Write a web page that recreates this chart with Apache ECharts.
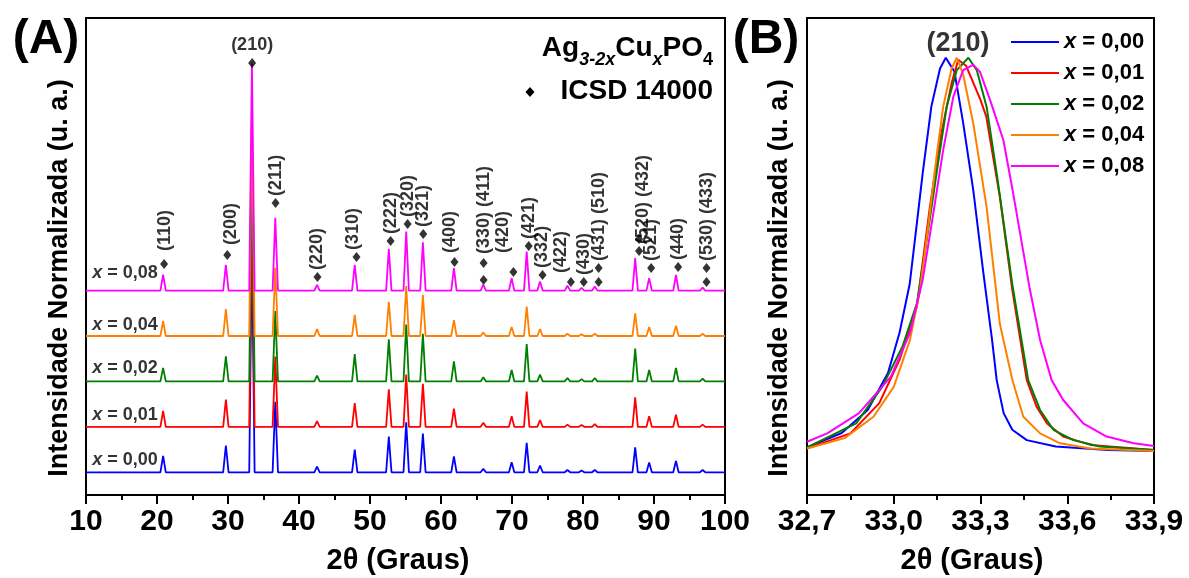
<!DOCTYPE html>
<html>
<head>
<meta charset="utf-8">
<script src="https://cdn.jsdelivr.net/npm/echarts@6/dist/echarts.min.js"></script>
<style>
  html, body { margin: 0; padding: 0; background: #fff; }
  #chart { width: 1189px; height: 578px; }
</style>
</head>
<body>
<div id="chart"></div>
<script>
// ---- Samples Ag(3-2x)Cu(x)PO4 ----
const compositions = ['x = 0,00', 'x = 0,01', 'x = 0,02', 'x = 0,04', 'x = 0,08'];
const seriesColors = ['#0000ff', '#ff0000', '#008000', '#ff8000', '#ff00ff'];
// vertical stacking of the normalized patterns in panel A
const stackOffsets = [0, 0.2, 0.4, 0.6, 0.8];

// ---- Panel A: reflection positions (2θ, degrees) ----
const peakPositions = [20.86, 29.7, 33.37, 36.66, 42.54, 47.85, 52.65, 55.1, 57.45, 61.82,
                       65.96, 69.95, 72.07, 73.95, 77.81, 79.8, 81.66, 87.35, 89.32, 93.09, 96.85];
// normalized peak intensities, one array per sample (same order as peakPositions)
const peaks000 = [0.072, 0.118, 1.0, 0.31, 0.025, 0.10, 0.157, 0.22, 0.17, 0.07,
                  0.015, 0.044, 0.13, 0.03, 0.01, 0.008, 0.01, 0.11, 0.043, 0.05, 0.01];
const peaks001 = [0.07, 0.12, 1.0, 0.31, 0.025, 0.105, 0.165, 0.23, 0.19, 0.08,
                  0.018, 0.047, 0.155, 0.03, 0.01, 0.008, 0.012, 0.13, 0.047, 0.054, 0.01];
const peaks002 = [0.06, 0.11, 1.0, 0.31, 0.026, 0.12, 0.185, 0.25, 0.21, 0.088,
                  0.018, 0.05, 0.165, 0.03, 0.015, 0.01, 0.015, 0.145, 0.05, 0.06, 0.012];
const peaks004 = [0.066, 0.118, 1.0, 0.30, 0.03, 0.093, 0.15, 0.22, 0.18, 0.07,
                  0.015, 0.04, 0.13, 0.03, 0.01, 0.008, 0.01, 0.10, 0.04, 0.045, 0.01];
const peaks008 = [0.07, 0.113, 1.0, 0.32, 0.025, 0.113, 0.184, 0.26, 0.213, 0.099,
                  0.026, 0.055, 0.172, 0.04, 0.022, 0.012, 0.018, 0.143, 0.055, 0.069, 0.013];
const peakSets = [peaks000, peaks001, peaks002, peaks004, peaks008];

// ICSD 14000 reference reflections (marker position and Miller indices)
const refX = [21.0, 29.9, 33.4, 36.7, 42.6, 48.1, 52.9, 55.3, 57.5, 61.9, 66.0, 66.0, 70.2,
              72.35, 74.3, 78.3, 80.1, 82.2, 82.2, 87.9, 87.9, 89.6, 93.4, 97.4, 97.4];
const refY = [0.917, 0.957, 1.802, 1.186, 0.860, 0.948, 1.018, 1.093, 1.049, 0.926, 0.921, 0.847, 0.882,
              0.996, 0.869, 0.838, 0.838, 0.899, 0.838, 1.027, 0.974, 0.899, 0.904, 0.899, 0.838];
const refHkl = ['(110)', '(200)', '(210)', '(211)', '(220)', '(310)', '(222)', '(320)', '(321)', '(400)',
                '(330) (411)', '', '(420)', '(421)', '(332)', '(422)', '(430)', '(431) (510)', '',
                '(520) (432)', '', '(521)', '(440)', '(530) (433)', ''];

// ---- Panel B: (210) reflection profiles [2θ, normalized intensity] ----
const prof000 = [[32.70, 0.02], [32.82, 0.056], [32.91, 0.114], [32.98, 0.207], [33.02, 0.308], [33.055, 0.43],
  [33.08, 0.584], [33.10, 0.709], [33.13, 0.877], [33.16, 0.973], [33.18, 1.0], [33.21, 0.965], [33.24, 0.836],
  [33.275, 0.667], [33.31, 0.458], [33.34, 0.29], [33.356, 0.189], [33.38, 0.106], [33.41, 0.064], [33.46, 0.038],
  [33.56, 0.022], [33.74, 0.013], [33.9, 0.011]];
const prof001 = [[32.70, 0.017], [32.85, 0.055], [32.95, 0.131], [33.02, 0.24], [33.08, 0.374], [33.125, 0.625],
  [33.16, 0.793], [33.20, 0.936], [33.223, 0.995], [33.25, 0.98], [33.30, 0.894], [33.32, 0.852], [33.367, 0.65],
  [33.41, 0.416], [33.46, 0.189], [33.494, 0.122], [33.53, 0.08], [33.586, 0.047], [33.68, 0.026], [33.9, 0.013]];
const prof002 = [[32.70, 0.02], [32.87, 0.08], [32.96, 0.172], [33.03, 0.273], [33.08, 0.382], [33.114, 0.541],
  [33.148, 0.709], [33.183, 0.877], [33.218, 0.969], [33.258, 1.0], [33.287, 0.969], [33.321, 0.877], [33.356, 0.709],
  [33.41, 0.43], [33.465, 0.189], [33.506, 0.114], [33.552, 0.064], [33.621, 0.038], [33.713, 0.022], [33.9, 0.013]];
const prof004 = [[32.70, 0.017], [32.83, 0.043], [32.93, 0.097], [33.0, 0.172], [33.056, 0.29], [33.091, 0.416],
  [33.119, 0.575], [33.148, 0.751], [33.171, 0.877], [33.20, 0.973], [33.218, 1.0], [33.24, 0.958], [33.275, 0.835],
  [33.321, 0.625], [33.367, 0.33], [33.41, 0.19], [33.448, 0.097], [33.506, 0.055], [33.575, 0.03], [33.68, 0.017],
  [33.9, 0.011]];
const prof008 = [[32.70, 0.034], [32.77, 0.055], [32.88, 0.106], [32.99, 0.198], [33.056, 0.307], [33.10, 0.441],
  [33.137, 0.609], [33.171, 0.768], [33.206, 0.902], [33.24, 0.969], [33.275, 0.982], [33.298, 0.965], [33.333, 0.894],
  [33.379, 0.793], [33.413, 0.659], [33.47, 0.42], [33.506, 0.29], [33.546, 0.189], [33.586, 0.139], [33.655, 0.08],
  [33.736, 0.047], [33.83, 0.03], [33.9, 0.023]];
const profileSets = [prof000, prof001, prof002, prof004, prof008];

// ---- drawing ----
const FONT = '"Liberation Sans", Arial, Helvetica, sans-serif';
const PEAK_HALF_BASE = 0.38;           // half width of a drawn reflection foot (deg)
const compLabelX = 15.5;               // where the composition tags sit
const compLabelLift = [0.055, 0.052, 0.059, 0.05, 0.077];
// fine placement of a few crowded index labels (screen px: right, down)
const labelShift = {
  '(110)': [1, -6], '(200)': [4, -3], '(310)': [-3, 0], '(400)': [-4, -2],
  '(330) (411)': [0, -2], '(420)': [-10, -12], '(422)': [-10, -2], '(520) (432)': [4, 12]
};

function stickPattern(heights, offset) {
  const pts = [[10, offset]];
  peakPositions.forEach((p, i) => {
    pts.push([p - PEAK_HALF_BASE, offset], [p, offset + heights[i]], [p + PEAK_HALF_BASE, offset]);
  });
  pts.push([100, offset]);
  return pts;
}

const chart = echarts.init(document.getElementById('chart'), null, { renderer: 'canvas' });

const axisCommon = {
  axisLine: { show: true, onZero: false, lineStyle: { color: '#000', width: 2 } },
  axisTick: { show: true, length: 9, lineStyle: { color: '#000', width: 2 } },
  minorTick: { show: true, splitNumber: 2, length: 5, lineStyle: { color: '#000', width: 2 } },
  splitLine: { show: false },
  axisLabel: { color: '#000', fontSize: 30, fontWeight: 'bold', fontFamily: FONT, margin: 12 }
};
const yCommon = {
  type: 'value',
  axisLine: { show: true, onZero: false, lineStyle: { color: '#000', width: 2 } },
  axisTick: { show: false }, axisLabel: { show: false }, splitLine: { show: false }
};

const series = [];
// panel A patterns
compositions.forEach((name, k) => {
  series.push({
    name, type: 'line', xAxisIndex: 0, yAxisIndex: 0,
    data: stickPattern(peakSets[k], stackOffsets[k]),
    symbol: 'none', color: seriesColors[k],
    lineStyle: { color: seriesColors[k], width: 1.8 }, z: 2 + k
  });
});
// composition tags in panel A
series.push({
  type: 'scatter', xAxisIndex: 0, yAxisIndex: 0, symbolSize: 0, silent: true, z: 10,
  data: compositions.map((name, k) => ({
    value: [compLabelX, stackOffsets[k] + compLabelLift[k]],
    label: { formatter: name.replace('x', '{i|x}') }
  })),
  label: {
    show: true, position: 'inside', color: '#000', fontSize: 18, fontWeight: 'bold', fontFamily: FONT,
    rich: { i: { fontStyle: 'italic', fontWeight: 'bold', fontSize: 18, fontFamily: FONT, color: '#000' } }
  }
});
// ICSD reference markers and Miller indices
series.push({
  type: 'scatter', xAxisIndex: 0, yAxisIndex: 0, symbol: 'diamond', symbolSize: [8, 10],
  itemStyle: { color: '#000' }, z: 12, silent: true,
  data: refX.map((x, i) => {
    const hkl = refHkl[i];
    if (!hkl) return { value: [x, refY[i]], label: { show: false } };
    if (hkl === '(210)') {
      return {
        value: [x, refY[i]],
        label: { show: true, formatter: hkl, position: 'top', distance: 4, rotate: 0,
                 align: 'center', verticalAlign: 'bottom' }
      };
    }
    const s = labelShift[hkl] || [0, 0];
    return {
      value: [x, refY[i]],
      label: { show: true, formatter: hkl, position: 'top', distance: 2, rotate: 90,
               align: 'left', verticalAlign: 'middle', offset: [-s[1], s[0]] }
    };
  }),
  label: { color: '#000', fontSize: 18, fontWeight: 'bold', fontFamily: FONT }
});
// panel B profiles
compositions.forEach((name, k) => {
  series.push({
    name, type: 'line', xAxisIndex: 1, yAxisIndex: 1, data: profileSets[k],
    symbol: 'none', color: seriesColors[k],
    lineStyle: { color: seriesColors[k], width: 2 }, z: 2 + k
  });
});
// (210) tag in panel B
series.push({
  type: 'scatter', xAxisIndex: 1, yAxisIndex: 1, symbolSize: 0, silent: true,
  data: [{ value: [33.222, 1.035] }],
  label: { show: true, position: 'inside', formatter: '(210)', color: '#000',
           fontSize: 27, fontWeight: 'bold', fontFamily: FONT }
});

const option = {
  animation: false,
  backgroundColor: '#fff',
  grid: [
    { left: 86, top: 18, width: 639, height: 477, show: true, borderColor: '#000', borderWidth: 2, containLabel: false },
    { left: 807, top: 18, width: 347, height: 477, show: true, borderColor: '#000', borderWidth: 2, containLabel: false }
  ],
  xAxis: [
    Object.assign({ type: 'value', gridIndex: 0, min: 10, max: 100, interval: 10 }, axisCommon),
    Object.assign({ type: 'value', gridIndex: 1, min: 32.7, max: 33.9, interval: 0.3 }, axisCommon, {
      axisLabel: Object.assign({}, axisCommon.axisLabel, {
        formatter: v => v.toFixed(1).replace('.', ',')
      })
    })
  ],
  yAxis: [
    Object.assign({ gridIndex: 0, min: -0.1, max: 2.0 }, yCommon),
    Object.assign({ gridIndex: 1, min: -0.1, max: 1.1 }, yCommon)
  ],
  legend: {
    data: compositions, orient: 'vertical', left: 1006, top: 25,
    icon: 'rect', itemWidth: 48, itemHeight: 2, itemGap: 7, selectedMode: false,
    formatter: n => n.replace('x', '{i|x}'),
    textStyle: {
      color: '#000', fontSize: 22, fontWeight: 'bold', fontFamily: FONT, lineHeight: 24,
      rich: { i: { fontStyle: 'italic', fontWeight: 'bold', fontSize: 22, fontFamily: FONT, color: '#000', lineHeight: 24 } }
    }
  },
  series,
  graphic: [
    { type: 'text', x: 46, y: 40, style: { text: '(A)', fontSize: 48, fontWeight: 'bold', fontFamily: FONT,
      fill: '#000', align: 'center', verticalAlign: 'middle' } },
    { type: 'text', x: 766, y: 40, style: { text: '(B)', fontSize: 48, fontWeight: 'bold', fontFamily: FONT,
      fill: '#000', align: 'center', verticalAlign: 'middle' } },
    { type: 'text', x: 60, y: 278, rotation: Math.PI / 2, style: { text: 'Intensidade Normalizada (u. a.)',
      fontSize: 27, fontWeight: 'bold', fontFamily: FONT, fill: '#000', align: 'center', verticalAlign: 'middle' } },
    { type: 'text', x: 780, y: 278, rotation: Math.PI / 2, style: { text: 'Intensidade Normalizada (u. a.)',
      fontSize: 27, fontWeight: 'bold', fontFamily: FONT, fill: '#000', align: 'center', verticalAlign: 'middle' } },
    { type: 'text', x: 398, y: 561, style: { text: '2θ (Graus)', fontSize: 29, fontWeight: 'bold', fontFamily: FONT,
      fill: '#000', align: 'center', verticalAlign: 'middle' } },
    { type: 'text', x: 972, y: 561, style: { text: '2θ (Graus)', fontSize: 29, fontWeight: 'bold', fontFamily: FONT,
      fill: '#000', align: 'center', verticalAlign: 'middle' } },
    { type: 'text', x: 713, y: 48, style: {
      text: '{m|Ag}{s|3-2x}{m|Cu}{s|x}{m|PO}{n|4}', align: 'right', verticalAlign: 'middle', fill: '#000',
      rich: {
        m: { fontSize: 28, fontWeight: 'bold', fontFamily: FONT, lineHeight: 42, fill: '#000' },
        s: { fontSize: 18, fontWeight: 'bold', fontStyle: 'italic', fontFamily: FONT, lineHeight: 14, verticalAlign: 'bottom', fill: '#000' },
        n: { fontSize: 18, fontWeight: 'bold', fontFamily: FONT, lineHeight: 14, verticalAlign: 'bottom', fill: '#000' }
      } } },
    { type: 'polygon', shape: { points: [[530, 87], [534.5, 92], [530, 97], [525.5, 92]] }, style: { fill: '#000' } },
    { type: 'text', x: 713, y: 91, style: { text: 'ICSD 14000', fontSize: 28, fontWeight: 'bold', fontFamily: FONT,
      fill: '#000', align: 'right', verticalAlign: 'middle' } }
  ]
};
chart.setOption(option);
</script>
</body>
</html>
